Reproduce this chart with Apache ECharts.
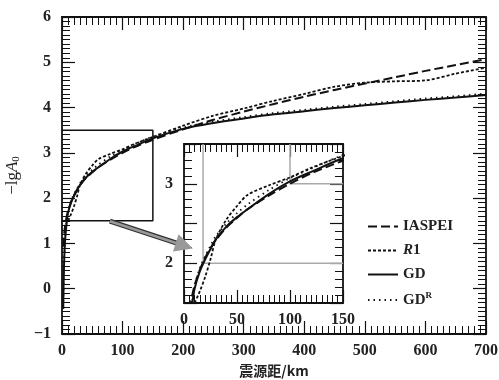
<!DOCTYPE html>
<html>
<head>
<meta charset="utf-8">
<script src="https://cdn.jsdelivr.net/npm/echarts@6/dist/echarts.min.js"></script>
<style>
  html, body { margin: 0; padding: 0; background: #fff; }
  #chart { width: 499px; height: 380px; }
</style>
</head>
<body>
<div id="chart"></div>
<script>
// 震源距 (km)
var dist = [2, 3, 5, 8, 10, 15, 20, 25, 30, 40, 50, 60, 80, 100, 120, 150, 200, 250, 300, 350, 400, 450, 500, 550, 600, 650, 700]
// -lgA0 各曲线
var iaspei = [0.93, 1.12, 1.38, 1.61, 1.72, 1.92, 2.07, 2.19, 2.29, 2.45, 2.57, 2.68, 2.85, 3.00, 3.13, 3.29, 3.52, 3.73, 3.91, 4.08, 4.24, 4.39, 4.53, 4.67, 4.81, 4.94, 5.07]
var r1 = [null, null, null, null, 1.50, 1.65, 1.83, 2.05, 2.30, 2.55, 2.72, 2.86, 2.98, 3.08, 3.20, 3.35, 3.60, 3.82, 3.98, 4.15, 4.30, 4.46, 4.55, 4.58, 4.60, 4.75, 4.88]
var gd = [-0.45, 0.35, 1.05, 1.50, 1.68, 1.90, 2.05, 2.18, 2.30, 2.46, 2.58, 2.68, 2.87, 3.03, 3.15, 3.32, 3.53, 3.66, 3.76, 3.85, 3.92, 3.99, 4.05, 4.11, 4.17, 4.22, 4.28]
var gdR = [-0.40, 0.40, 1.10, 1.55, 1.72, 1.94, 2.09, 2.22, 2.34, 2.50, 2.63, 2.74, 2.92, 3.07, 3.19, 3.36, 3.56, 3.69, 3.79, 3.88, 3.95, 4.02, 4.08, 4.14, 4.20, 4.25, 4.31]

// 放大区域框与箭头, 内嵌图的灰色参考线
var zoomBox = [[0, 3.5], [150, 3.5], [150, 1.5], [0, 1.5]]
var arrow = [[79, 1.49], [202, 0.95]]
var guide1 = [[18, 3.5], [18, 2], [150, 2]]
var guide2 = [[100, 3.5], [100, 3], [150, 3]]

function pairs(ys) {
    return dist.map(function (d, i) { return [d, ys[i]] })
}

var serif = '"Liberation Serif", "DejaVu Serif", serif'
var labelStyle = { color: '#222', fontFamily: serif, fontSize: 16, fontWeight: 'bold' }

// 刻度以轴线为中心绘制, 长度取两倍
function axisBase(extra) {
    var a = {
        axisLine: { show: true, onZero: false, lineStyle: { color: '#111', width: 1.8 } },
        axisTick: { show: true, inside: true, length: 13, lineStyle: { color: '#111', width: 1.2 } },
        minorTick: { show: true, splitNumber: 10, length: 8, lineStyle: { color: '#111', width: 1 } },
        splitLine: { show: false },
        axisLabel: Object.assign({ margin: 9 }, labelStyle)
    }
    return Object.assign(a, extra)
}

var curves = [
    { name: 'IASPEI', data: iaspei, dash: [9, 4], width: 2 },
    { name: 'R1', data: r1, dash: [3, 2], width: 1.8 },
    { name: 'GD', data: gd, dash: null, width: 2 },
    { name: 'GDR', data: gdR, dash: [1.5, 4], width: 1.8 }
]

var series = []
curves.forEach(function (c) {
    [0, 1].forEach(function (g) {
        series.push({
            name: c.name,
            type: 'line',
            xAxisIndex: g * 2,
            yAxisIndex: g * 2,
            data: pairs(c.data),
            smooth: 0.3,
            showSymbol: false,
            symbol: 'none',
            clip: true,
            color: '#111',
            lineStyle: { color: '#111', width: c.width, type: c.dash || 'solid' },
            z: 5
        })
    })
})

series.push({
    type: 'line', xAxisIndex: 0, yAxisIndex: 0, data: zoomBox, symbol: 'none',
    lineStyle: { color: '#111', width: 1.5 }, silent: true, z: 3
})
series.push({
    type: 'line', xAxisIndex: 2, yAxisIndex: 2, data: guide1, symbol: 'none',
    lineStyle: { color: '#aaa', width: 1.5 }, silent: true, z: 3
})
series.push({
    type: 'line', xAxisIndex: 2, yAxisIndex: 2, data: guide2, symbol: 'none',
    lineStyle: { color: '#aaa', width: 1.5 }, silent: true, z: 3
})
// 箭头
series.push({
    type: 'lines', coordinateSystem: 'cartesian2d', xAxisIndex: 0, yAxisIndex: 0,
    data: [{ coords: arrow }], symbol: ['none', 'none'],
    lineStyle: { color: '#333', width: 5, opacity: 1 }, silent: true, z: 10
})
series.push({
    type: 'lines', coordinateSystem: 'cartesian2d', xAxisIndex: 0, yAxisIndex: 0,
    data: [{ coords: arrow }], symbol: ['none', 'triangle'], symbolSize: 18,
    lineStyle: { color: '#999', width: 2.5, opacity: 1 }, silent: true, z: 11
})

var chart = echarts.init(document.getElementById('chart'))
chart.setOption({
    backgroundColor: '#fff',
    animation: false,
    grid: [
        { left: 62, right: 13, top: 17, bottom: 46, show: false, containLabel: false, outerBoundsMode: 'none' },
        { left: 184, top: 144, width: 159, height: 159, show: false, containLabel: false, outerBoundsMode: 'none' }
    ],
    legend: {
        orient: 'vertical',
        left: 362,
        top: 214,
        itemWidth: 30,
        itemHeight: 12,
        itemGap: 9,
        itemStyle: { opacity: 0 },
        data: ['IASPEI', 'R1', 'GD', 'GDR'],
        textStyle: {
            color: '#222', fontFamily: serif, fontSize: 15, fontWeight: 'bold',
            rich: {
                i: { fontFamily: serif, fontSize: 15, fontWeight: 'bold', fontStyle: 'italic', color: '#222' },
                n: { fontFamily: serif, fontSize: 15, fontWeight: 'bold', color: '#222' },
                s: { fontFamily: serif, fontSize: 9, fontWeight: 'bold', color: '#222', padding: [0, 0, 9, 0] }
            }
        },
        formatter: function (name) {
            if (name === 'R1') return '{i|R}{n|1}'
            if (name === 'GDR') return '{n|GD}{s|R}'
            return name
        }
    },
    xAxis: [
        axisBase({
            gridIndex: 0, type: 'value', min: 0, max: 700, interval: 100,
            name: '震源距/km', nameLocation: 'middle', nameGap: 28,
            nameTextStyle: { color: '#222', fontFamily: '"Noto Sans CJK SC", serif', fontSize: 14, fontWeight: 'bold' }
        }),
        axisBase({ gridIndex: 0, type: 'value', min: 0, max: 700, interval: 100, position: 'top', axisLabel: { show: false } }),
        axisBase({ gridIndex: 1, type: 'value', min: 0, max: 150, interval: 50 }),
        axisBase({ gridIndex: 1, type: 'value', min: 0, max: 150, interval: 50, position: 'top', axisLabel: { show: false } })
    ],
    yAxis: [
        axisBase({
            gridIndex: 0, type: 'value', min: -1, max: 6, interval: 1,
            axisLabel: Object.assign({ margin: 11, formatter: function (v) { return v < 0 ? '\u2212' + (-v) : String(v) } }, labelStyle),
            name: '{n|\u2212lg}{i|A}{s|0}', nameLocation: 'middle', nameGap: 40, nameRotate: 90,
            nameTextStyle: {
                rich: {
                    n: { fontFamily: serif, fontSize: 17, color: '#222' },
                    i: { fontFamily: serif, fontSize: 17, fontStyle: 'italic', color: '#222' },
                    s: { fontFamily: serif, fontSize: 11, color: '#222', padding: [7, 0, 0, 0] }
                }
            }
        }),
        axisBase({ gridIndex: 0, type: 'value', min: -1, max: 6, interval: 1, position: 'right', axisLabel: { show: false } }),
        axisBase({
            gridIndex: 1, type: 'value', min: 1.5, max: 3.5, interval: 0.5,
            minorTick: { show: true, splitNumber: 5, length: 8, lineStyle: { color: '#111', width: 1 } },
            axisLabel: Object.assign({ margin: 11, formatter: function (v) { return v % 1 === 0 ? String(v) : '' } }, labelStyle)
        }),
        axisBase({
            gridIndex: 1, type: 'value', min: 1.5, max: 3.5, interval: 0.5, position: 'right',
            minorTick: { show: true, splitNumber: 5, length: 8, lineStyle: { color: '#111', width: 1 } },
            axisLabel: { show: false }
        })
    ],
    series: series
})
</script>
</body>
</html>
